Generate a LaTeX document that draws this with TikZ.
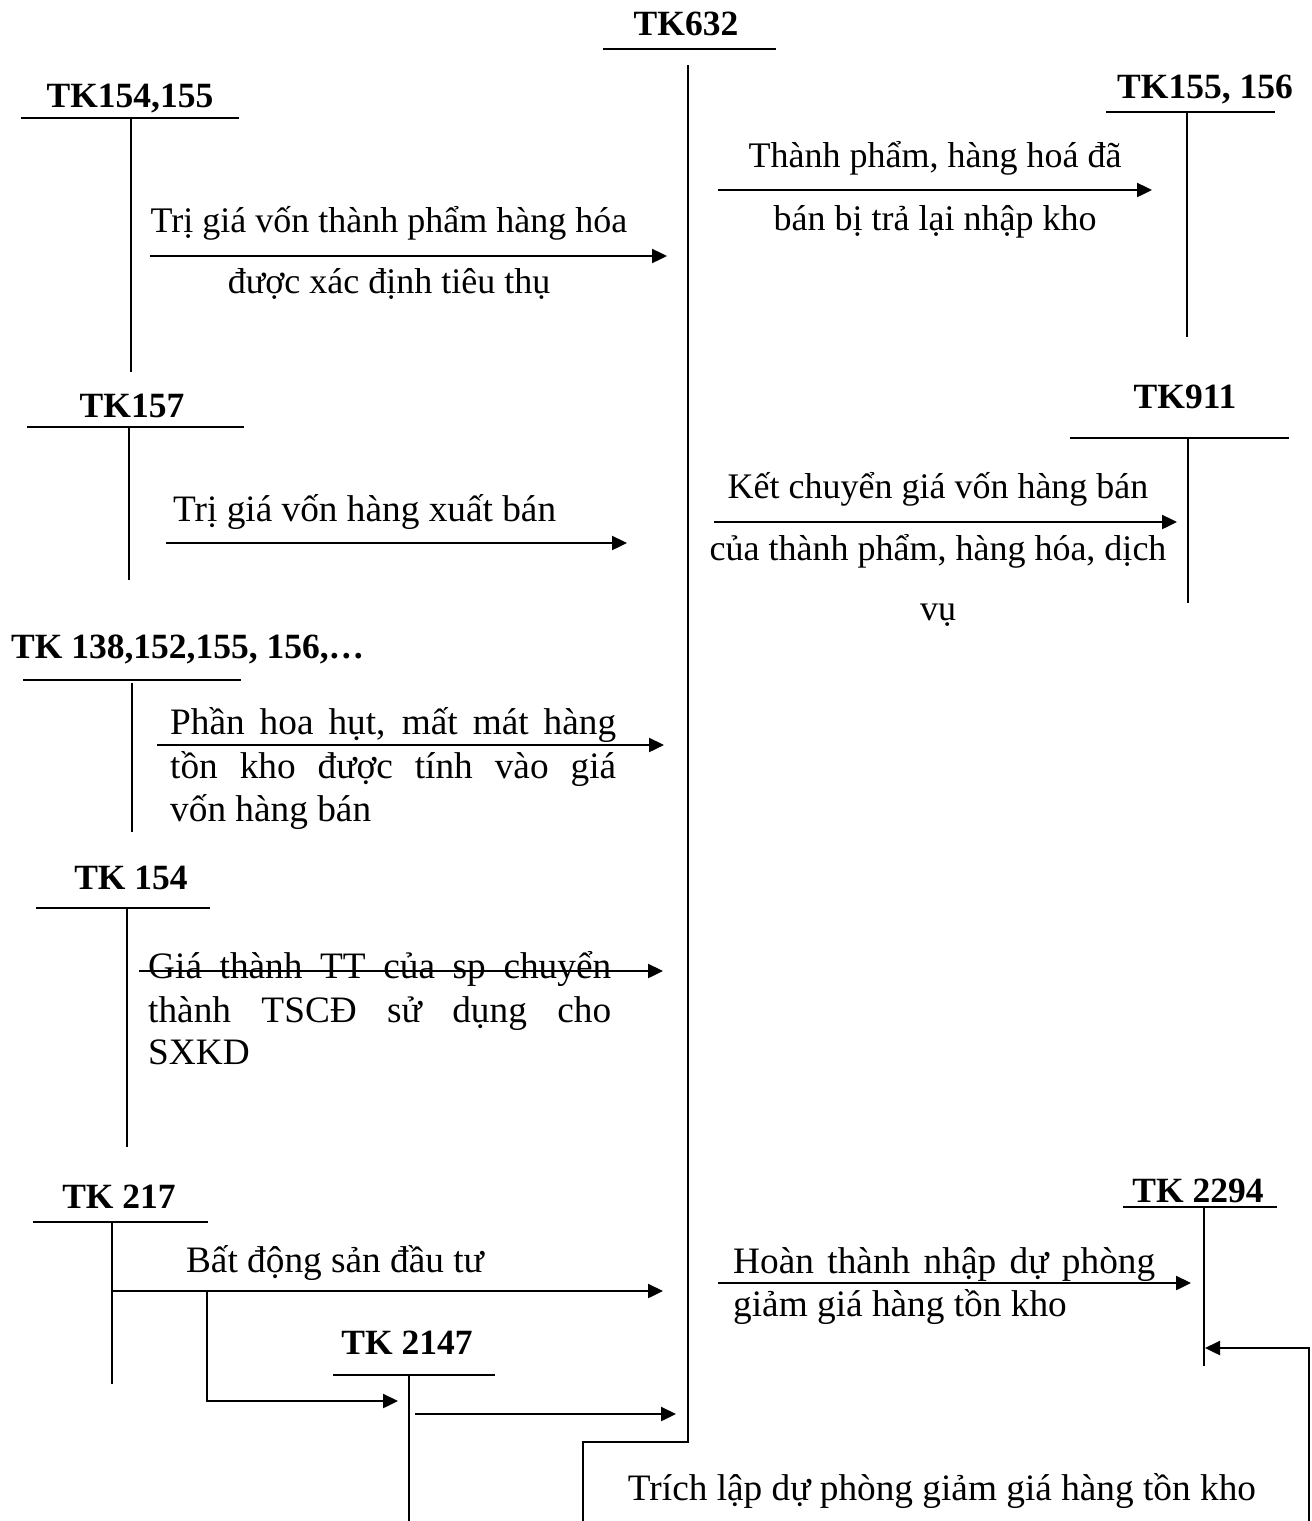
\documentclass[tikz,border=0pt]{standalone}
\usepackage{fontspec}
\setmainfont{Liberation Serif}
\usetikzlibrary{arrows.meta}
\begin{document}
\begin{tikzpicture}[x=1pt,y=-1pt,
  tt/.style={font=\bfseries\fontsize{35.5}{43}\selectfont, inner sep=0pt, anchor=base},
  ttw/.style={tt, anchor=base west},
  lbl/.style={font=\fontsize{36}{43}\selectfont, inner sep=0pt, anchor=base},
  lblw/.style={lbl, anchor=base west},
  big/.style={font=\fontsize{37.3}{44}\selectfont, inner sep=0pt, anchor=base},
  bigw/.style={big, anchor=base west},
  acc/.style={line width=2pt},
  arr/.style={line width=2.4pt, -{Triangle[length=15pt,width=14pt]}}]
\useasboundingbox (0,0) rectangle (1312,1521);

% ---------- TK632 ----------
\node[tt] (t632) at (686,35) {TK632};
\coordinate (u632a) at (603,49); \coordinate (u632b) at (776,49);
\coordinate (s632a) at (688,65); \coordinate (s632b) at (688,1442);
\coordinate (s632c) at (583,1442); \coordinate (s632d) at (583,1521);
\draw[acc] (u632a) -- (u632b);
\draw[acc] (s632a) -- (s632b) -- (s632c) -- (s632d);

% ---------- TK154,155 ----------
\node[tt] (t154155) at (130,107) {TK154,155};
\coordinate (u1a) at (21,118); \coordinate (u1b) at (239,118);
\coordinate (s1a) at (131,118); \coordinate (s1b) at (131,372);
\draw[acc] (u1a) -- (u1b);
\draw[acc] (s1a) -- (s1b);
\coordinate (a1s) at (150,256); \coordinate (a1e) at (667,256);
\draw[arr] (a1s) -- (a1e);
\node[lbl] (l1a) at (389,232) {Trị giá vốn thành phẩm hàng hóa};
\node[lbl] (l1b) at (389,293) {được xác định tiêu thụ};

% ---------- TK155, 156 ----------
\node[tt] (t155156) at (1205,98) {TK155, 156};
\coordinate (u2a) at (1106,112); \coordinate (u2b) at (1275,112);
\coordinate (s2a) at (1187,112); \coordinate (s2b) at (1187,337);
\draw[acc] (u2a) -- (u2b);
\draw[acc] (s2a) -- (s2b);
\coordinate (a2s) at (718,190); \coordinate (a2e) at (1152,190);
\draw[arr] (a2s) -- (a2e);
\node[lbl] (l2a) at (935,167) {Thành phẩm, hàng hoá đã};
\node[lbl] (l2b) at (935,230) {bán bị trả lại nhập kho};

% ---------- TK157 ----------
\node[tt] (t157) at (132,417) {TK157};
\coordinate (u3a) at (27,427); \coordinate (u3b) at (244,427);
\coordinate (s3a) at (129,427); \coordinate (s3b) at (129,580);
\draw[acc] (u3a) -- (u3b);
\draw[acc] (s3a) -- (s3b);
\coordinate (a3s) at (166,543); \coordinate (a3e) at (627,543);
\draw[arr] (a3s) -- (a3e);
\node[bigw] (l3) at (173,521) {Trị giá vốn hàng xuất bán};

% ---------- TK911 ----------
\node[tt] (t911) at (1185,408) {TK911};
\coordinate (u4a) at (1070,438); \coordinate (u4b) at (1289,438);
\coordinate (s4a) at (1188,438); \coordinate (s4b) at (1188,603);
\draw[acc] (u4a) -- (u4b);
\draw[acc] (s4a) -- (s4b);
\coordinate (a4s) at (714,522); \coordinate (a4e) at (1177,522);
\draw[arr] (a4s) -- (a4e);
\node[lbl] (l4a) at (938,498) {Kết chuyển giá vốn hàng bán};
\node[lbl] (l4b) at (938,560) {của thành phẩm, hàng hóa, dịch};
\node[lbl] (l4c) at (938,620) {vụ};

% ---------- TK 138,152,155, 156,... ----------
\node[ttw] (t138) at (11,658) {TK 138,152,155, 156,…};
\coordinate (u5a) at (23,680); \coordinate (u5b) at (241,680);
\coordinate (s5a) at (132,683); \coordinate (s5b) at (132,832);
\draw[acc] (u5a) -- (u5b);
\draw[acc] (s5a) -- (s5b);
\node[bigw] (l5a) at (170,734) {\makebox[446pt][s]{Phần hoa hụt, mất mát hàng}};
\node[bigw] (l5b) at (170,778) {\makebox[446pt][s]{tồn kho được tính vào giá}};
\node[bigw] (l5c) at (170,821) {vốn hàng bán};
\coordinate (a5s) at (157,745); \coordinate (a5e) at (664,745);
\draw[arr] (a5s) -- (a5e);

% ---------- TK 154 ----------
\node[tt] (t154) at (131,889) {TK 154};
\coordinate (u6a) at (36,908); \coordinate (u6b) at (210,908);
\coordinate (s6a) at (127,908); \coordinate (s6b) at (127,1147);
\draw[acc] (u6a) -- (u6b);
\draw[acc] (s6a) -- (s6b);
\node[bigw] (l6a) at (148,978) {\makebox[463pt][s]{Giá thành TT của sp chuyển}};
\node[bigw] (l6b) at (148,1022) {\makebox[463pt][s]{thành TSCĐ sử dụng cho}};
\node[bigw] (l6c) at (148,1064) {SXKD};
\coordinate (a6s) at (139,971); \coordinate (a6e) at (663,971);
\draw[arr] (a6s) -- (a6e);

% ---------- TK 217 ----------
\node[tt] (t217) at (119,1208) {TK 217};
\coordinate (u7a) at (33,1222); \coordinate (u7b) at (208,1222);
\coordinate (s7a) at (112,1222); \coordinate (s7b) at (112,1384);
\draw[acc] (u7a) -- (u7b);
\draw[acc] (s7a) -- (s7b);
\coordinate (a7s) at (112,1291); \coordinate (a7e) at (663,1291);
\draw[arr] (a7s) -- (a7e);
\node[big] (l7) at (335,1272) {Bất động sản đầu tư};
\coordinate (b7a) at (207,1291); \coordinate (b7b) at (207,1401);
\coordinate (b7c) at (398,1401);
\draw[arr] (b7a) -- (b7b) -- (b7c);

% ---------- TK 2147 ----------
\node[tt] (t2147) at (407,1354) {TK 2147};
\coordinate (u8a) at (333,1375); \coordinate (u8b) at (495,1375);
\coordinate (s8a) at (409,1375); \coordinate (s8b) at (409,1521);
\draw[acc] (u8a) -- (u8b);
\draw[acc] (s8a) -- (s8b);
\coordinate (a8s) at (415,1414); \coordinate (a8e) at (676,1414);
\draw[arr] (a8s) -- (a8e);

% ---------- TK 2294 ----------
\node[tt] (t2294) at (1198,1202) {TK 2294};
\coordinate (u9a) at (1123,1207); \coordinate (u9b) at (1277,1207);
\coordinate (s9a) at (1204,1207); \coordinate (s9b) at (1204,1366);
\draw[acc] (u9a) -- (u9b);
\draw[acc] (s9a) -- (s9b);
\coordinate (a9s) at (718,1283); \coordinate (a9e) at (1191,1283);
\draw[arr] (a9s) -- (a9e);
\node[bigw] (l9a) at (733,1273) {\makebox[422pt][s]{Hoàn thành nhập dự phòng}};
\node[bigw] (l9b) at (733,1316) {giảm giá hàng tồn kho};
\coordinate (r9a) at (1309,1521); \coordinate (r9b) at (1309,1348);
\coordinate (r9c) at (1205,1348);
\draw[arr] (r9a) -- (r9b) -- (r9c);
\node[big] (l10) at (942,1500) {Trích lập dự phòng giảm giá hàng tồn kho};
\end{tikzpicture}
\end{document}
